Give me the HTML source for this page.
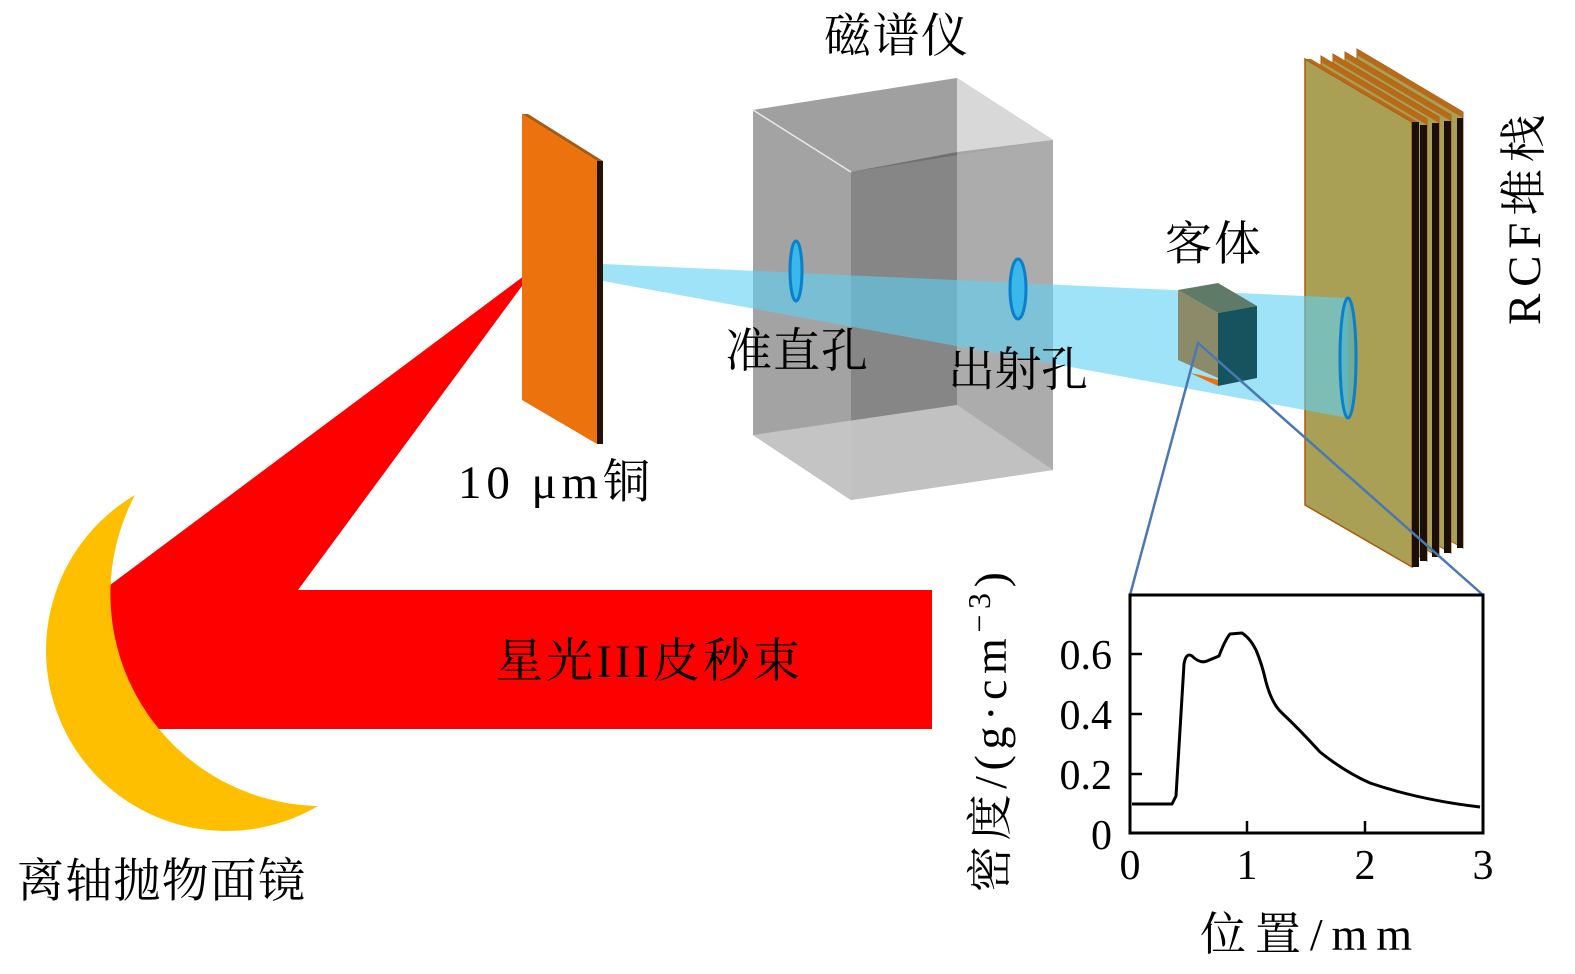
<!DOCTYPE html>
<html><head><meta charset="utf-8"><style>
html,body{margin:0;padding:0;background:#fff;}
svg{display:block;}
text{font-family:"Liberation Serif","Noto Serif CJK SC",serif;fill:#000;}
</style></head><body>
<svg width="1575" height="974" viewBox="0 0 1575 974" xmlns="http://www.w3.org/2000/svg">
<!-- red beam -->
<polygon points="90,600 536,267 298,590 932,590 932,729 90,729" fill="#ff0000"/>
<!-- mirror -->
<path d="M135,495 A180,180 0 1,0 318,806 A212,212 0 0,1 135,495 Z" fill="#fdbf00"/>
<!-- copper plate -->
<polygon points="522,114 597,161 603,161 528,114" fill="#a85a10"/>
<polygon points="522,114 597,161 597,444 522,400" fill="#ec720e"/>
<rect x="597" y="161" width="6" height="283" fill="#1f130a"/>
<!-- magnetic spectrometer box -->
<polygon points="753,110 957,78 1053,140 1053,470 851,500 753,435" fill="#c9c9c9"/>
<polygon points="753,110 957,78 1053,140 851,172" fill="#a0a0a0"/>
<polygon points="753,110 851,172 851,500 753,435" fill="#a3a3a3"/>
<polygon points="851,172 957,152 957,405 851,425" fill="#707070"/>
<polygon points="957,78 1053,140 1053,152 957,152" fill="#d8d8d8"/>
<polygon points="957,152 1053,140 1053,470 957,405" fill="#a6a6a6"/>
<polygon points="753,435 957,405 1053,470 851,500" fill="#c4c4c4"/>
<polygon points="851,172 1053,140 1053,470 851,500" fill="#b8b8b8" opacity="0.3"/>
<line x1="753" y1="110" x2="851" y2="172" stroke="#e8e8e8" stroke-width="1.5"/>
<!-- RCF stack -->
<g>
<polygon points="1357,49 1463,112 1463,548 1357,488" fill="#a9a055" stroke="#a85a10"/>
<polygon points="1357,49 1463,112 1463,118 1357,55" fill="#b86a18"/>
<rect x="1457" y="118" width="6" height="430" fill="#1a1008"/>
<polygon points="1345,52 1451,115 1451,553 1345,492" fill="#a9a055" stroke="#a85a10"/>
<polygon points="1345,52 1451,115 1451,121 1345,58" fill="#b86a18"/>
<rect x="1444" y="121" width="7" height="432" fill="#1a1008"/>
<polygon points="1333,54 1439,117 1439,557 1333,496" fill="#a9a055" stroke="#a85a10"/>
<polygon points="1333,54 1439,117 1439,123 1333,60" fill="#b86a18"/>
<rect x="1432" y="123" width="7" height="434" fill="#1a1008"/>
<polygon points="1321,56 1427,119 1427,561 1321,500" fill="#a9a055" stroke="#a85a10"/>
<polygon points="1321,56 1427,119 1427,125 1321,62" fill="#b86a18"/>
<rect x="1420" y="125" width="7" height="436" fill="#1a1008"/>
<polygon points="1305,59 1412,122 1412,567 1305,505" fill="#a9a055" stroke="#a85a10" stroke-width="1.5"/>
<polygon points="1305,59 1412,122 1418,122 1311,59" fill="#b86a18"/>
<rect x="1412" y="122" width="7" height="445" fill="#1a1008"/>
</g>
<!-- proton beam -->
<polygon points="603,264 1348,298 1348,418 603,281" fill="#5fd0f5" opacity="0.6"/>
<ellipse cx="796" cy="271" rx="6" ry="30" fill="#3ab8ea" stroke="#0a7fcc" stroke-width="3"/>
<ellipse cx="1018" cy="289" rx="8" ry="30" fill="#3ab8ea" stroke="#0a7fcc" stroke-width="3"/>
<ellipse cx="1348" cy="358" rx="8" ry="60" fill="#4ab0c8" fill-opacity="0.6" stroke="#0a7fcc" stroke-width="3"/>
<!-- target cube -->
<polygon points="1178,290 1218,283 1257,306 1218,313" fill="#5f7a66"/>
<polygon points="1178,290 1218,313 1218,378 1178,360" fill="#8b8b6a"/>
<polygon points="1218,313 1257,306 1257,378 1218,386" fill="#16535f"/>
<polygon points="1190,373 1218,386 1218,380 1200,375" fill="#ec720e"/>
<!-- zoom lines -->
<polyline points="1130,595 1198,343 1483,595" fill="none" stroke="#4a78b2" stroke-width="2.5"/>
<!-- plot -->
<rect x="1130" y="595" width="353" height="238" fill="none" stroke="#000" stroke-width="3"/>
<g stroke="#000" stroke-width="2.5">
<line x1="1130" y1="654" x2="1142" y2="654"/>
<line x1="1130" y1="714" x2="1142" y2="714"/>
<line x1="1130" y1="774" x2="1142" y2="774"/>
<line x1="1247" y1="833" x2="1247" y2="821"/>
<line x1="1365" y1="833" x2="1365" y2="821"/>
</g>
<path fill="none" stroke="#000" stroke-width="3" stroke-linejoin="round" d="M1132,804 L1172,804 L1176,796 L1184,664 Q1186,652 1192,656 Q1200,664 1207,661 L1219,656 Q1225,640 1230,634 L1242,633 Q1250,638 1256,650 Q1262,664 1266,682 Q1272,704 1282,713 Q1300,730 1320,752 Q1345,772 1370,783 Q1420,800 1480,807"/>
<g font-size="42">
<text x="1112" y="669" text-anchor="end">0.6</text>
<text x="1112" y="729" text-anchor="end">0.4</text>
<text x="1112" y="789" text-anchor="end">0.2</text>
<text x="1112" y="849" text-anchor="end">0</text>
<text x="1130" y="879" text-anchor="middle">0</text>
<text x="1247" y="879" text-anchor="middle">1</text>
<text x="1365" y="879" text-anchor="middle">2</text>
<text x="1483" y="879" text-anchor="middle">3</text>
<text x="1200" y="950" font-size="46" textLength="212">位置/mm</text>
<text transform="translate(1006,892) rotate(-90)" font-size="46" textLength="320">密度/(g·cm<tspan dy="-16" font-size="32">−3</tspan><tspan dy="16">)</tspan></text>
</g>
<!-- labels -->
<g font-size="47">
<text x="824" y="52" textLength="144">磁谱仪</text>
<text x="458" y="498" textLength="192">10 μm铜</text>
<text x="725" y="367" textLength="143">准直孔</text>
<text x="948" y="386" textLength="140">出射孔</text>
<text x="1165" y="260" textLength="96">客体</text>
<text transform="translate(1540,325) rotate(-90)" textLength="210">RCF堆栈</text>
<text x="496" y="677" textLength="304">星光III皮秒束</text>
<text x="17" y="897" textLength="288">离轴抛物面镜</text>
</g>
</svg>
</body></html>
